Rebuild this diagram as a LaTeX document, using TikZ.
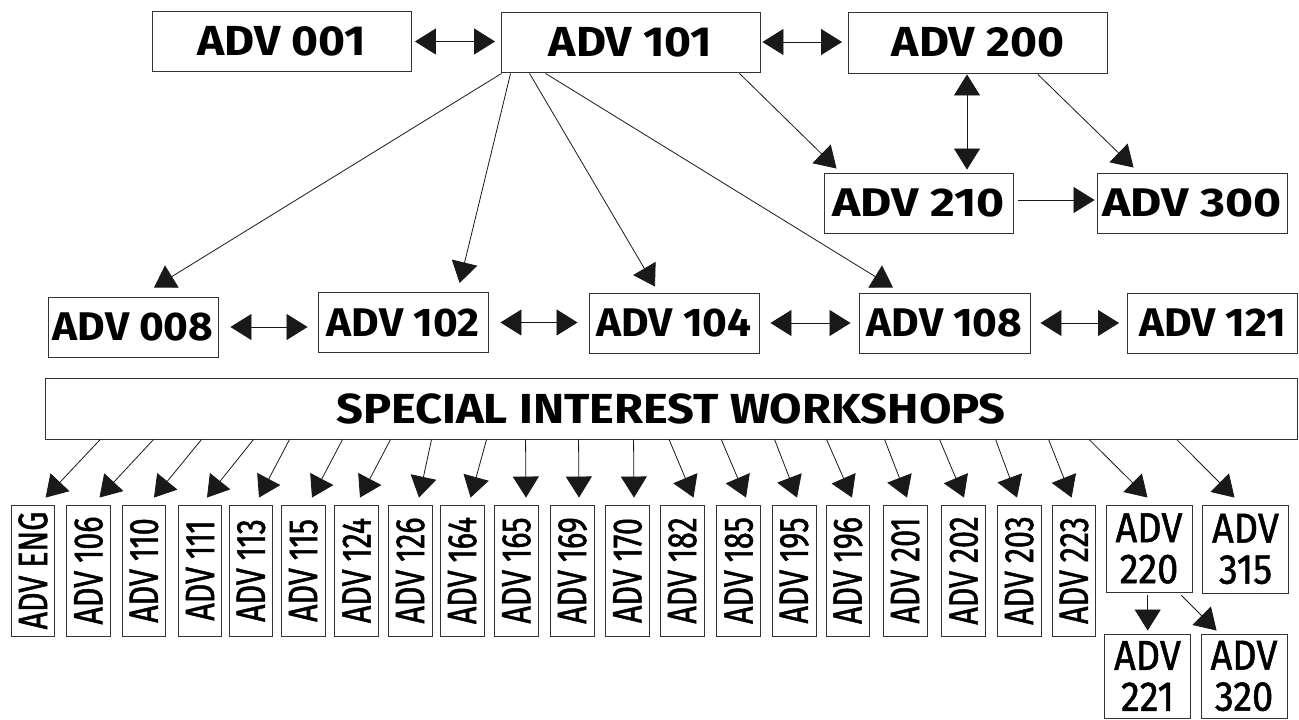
\documentclass[tikz,border=0pt]{standalone}
\usepackage{fontspec}
\usepackage{graphicx}
\setmainfont{Fira Sans}
\newfontfamily\topf{Fira Sans}[FakeStretch=1.1]
\newfontfamily\midf{Fira Sans}[FakeStretch=1.06]
\newfontfamily\rowf{Fira Sans}[FakeStretch=1.2]
\newfontfamily\widef{Fira Sans}[FakeStretch=1.12]
\newfontfamily\vfont{Fira Sans}[FakeStretch=0.74, FakeBold=1.2]
\newfontfamily\tfont{Fira Sans}[FakeStretch=0.9, FakeBold=1.2]
\usetikzlibrary{arrows.meta,calc}
\tikzset{
  box/.style={draw=black!80, line width=0.9pt, inner sep=0pt, fill=white},
  topbox/.style={box, minimum width=259pt, minimum height=60pt, font=\topf\fontsize{42}{42}\selectfont\bfseries},
  midbox/.style={box, minimum width=170pt, minimum height=60pt, font=\midf\fontsize{40}{40}\selectfont\bfseries},
  rowbox/.style={box, minimum width=189pt, minimum height=60pt, font=\rowf\fontsize{40}{40}\selectfont\bfseries},
  vbox/.style={box, minimum width=43.6pt, minimum height=131pt, font=\vfont\fontsize{41}{41}\selectfont},
  twobox/.style={box, minimum width=86pt, align=center, font=\tfont\fontsize{42}{41}\selectfont},
  arr/.style={-{Triangle[length=21pt,width=26pt]}, line width=0.8pt, black!90},
  darr/.style={{Triangle[length=21pt,width=26pt]}-{Triangle[length=21pt,width=26pt]}, line width=0.8pt, black!90},
}
\begin{document}
\begin{tikzpicture}[x=1pt,y=-1pt]
\useasboundingbox (0,0) rectangle (1299,720);
\fill[white] (0,0) rectangle (1299,720);
% top row
\node[topbox] (a001) at (282,41.5) {ADV 001};
\node[topbox] (a101) at (630.5,42) {ADV 101};
\node[topbox, minimum height=61pt] (a200) at (978,42.5) {ADV 200};
% third row
\node[rowbox] (a210) at (918.5,203) {ADV 210};
\node[rowbox, minimum width=190pt] (a300) at (1192,203) {ADV 300};
% middle row
\node[midbox] (a008) at (133,327) {ADV 008};
\node[midbox] (a102) at (403,322.5) {ADV 102};
\node[midbox] (a104) at (674,323) {ADV 104};
\node[midbox, minimum width=171pt] (a108) at (944.5,323) {ADV 108};
\node[midbox] (a121) at (1212.5,323) {ADV 121};
% workshops
\node[box, minimum width=1252pt, minimum height=61pt, font=\widef\fontsize{42}{42}\selectfont\bfseries] (sw) at (671,408.5) {SPECIAL INTEREST WORKSHOPS};
% vertical boxes
\foreach \i/\cx/\t in {1/33/ADV ENG, 2/88.5/ADV 106, 3/144/ADV 110, 4/200/ADV 111, 5/251/ADV 113,
  6/303.3/ADV 115, 7/356.4/ADV 124, 8/410.3/ADV 126, 9/462.3/ADV 164, 10/516.4/ADV 165,
  11/572.4/ADV 169, 12/627.5/ADV 170, 13/682.3/ADV 182, 14/738.7/ADV 185, 15/794.2/ADV 195,
  16/848/ADV 196, 17/905.2/ADV 201, 18/963.7/ADV 202, 19/1019.2/ADV 203, 20/1074.1/ADV 223}
  {\node[vbox] (b\i) at (\cx,570.5) {\rotatebox{90}{\t}};}
\node[twobox, minimum height=87pt] (b21) at (1149,548.5) {ADV\\220};
\node[twobox, minimum height=88pt] (b22) at (1245.5,549) {ADV\\315};
\node[twobox, minimum height=84pt] (a221) at (1147.5,676) {ADV\\221};
\node[twobox, minimum height=84pt] (a320) at (1244,676) {ADV\\320};
% top connectors
\draw[darr, shorten <=3pt, shorten >=5.5pt] (a001.east) -- (a001.east -| a101.west);
\draw[darr, shorten <=2pt, shorten >=6pt] (a101.east) -- (a101.east -| a200.west);
\coordinate (v1) at (967,0);
\draw[darr, shorten <=1pt, shorten >=3pt] (a200.south -| v1) -- (a210.north -| v1);
\draw[arr, shorten <=5pt, shorten >=2pt] ([yshift=3pt]a210.east) -- ([yshift=3pt]a210.east -| a300.west);
\draw[arr] ([xshift=1pt,yshift=-1pt]a101.south west) -- ([xshift=21pt,yshift=9pt]a008.north);
\draw[arr] ([xshift=10pt,yshift=-1pt]a101.south west) -- ([xshift=56.6pt,yshift=9pt]a102.north);
\draw[arr] ([xshift=29pt,yshift=-1pt]a101.south west) -- ([xshift=-19pt,yshift=6pt]a104.north);
\draw[arr] ([xshift=45pt,yshift=-1pt]a101.south west) -- ([xshift=-51.5pt,yshift=5pt]a108.north);
\draw[arr] ([xshift=-21pt,yshift=-1pt]a101.south east) -- ([xshift=13pt,yshift=4pt]a210.north west);
\draw[arr] ([xshift=-70pt,yshift=-1pt]a200.south east) -- ([xshift=37pt,yshift=5pt]a300.north west);
% middle connectors
\draw[darr, shorten <=12pt, shorten >=10pt] (a008.east) -- (a008.east -| a102.west);
\draw[darr, shorten <=12pt, shorten >=11pt] (a102.east) -- (a102.east -| a104.west);
\draw[darr, shorten <=11pt, shorten >=8pt] (a104.east) -- (a104.east -| a108.west);
\draw[darr, shorten <=10pt, shorten >=8pt] (a108.east) -- (a108.east -| a121.west);
% workshop arrows
\foreach \i/\so/\dx in {1/55.7/12.6, 2/109/11, 3/157/10, 4/209/7, 5/245/8, 6/298/8.7, 7/346/3.6,
  8/387/8.7, 9/442/8.3, 10/481/9.6, 11/534/6.6, 12/589/6.5, 13/624.5/11.2, 14/676.7/7.3,
  15/730/2.8, 16/782/4, 17/840/1.8, 18/895/0.3, 19/951/-2.2, 20/1004/-2.5, 21/1044.5/-1.5, 22/1132/-11}
  {\draw[arr] ($(sw.south west)+(\so,0)$) -- ([xshift=\dx pt,yshift=7pt]b\i.north);}
\draw[arr, shorten <=3pt, shorten >=3pt] ([xshift=-1.3pt]b21.south) -- ([xshift=-1.3pt]b21.south |- a221.north);
\draw[arr] ([xshift=-11pt,yshift=-3pt]b21.south east) -- ([xshift=16pt,yshift=3pt]a320.north west);
\end{tikzpicture}
\end{document}
